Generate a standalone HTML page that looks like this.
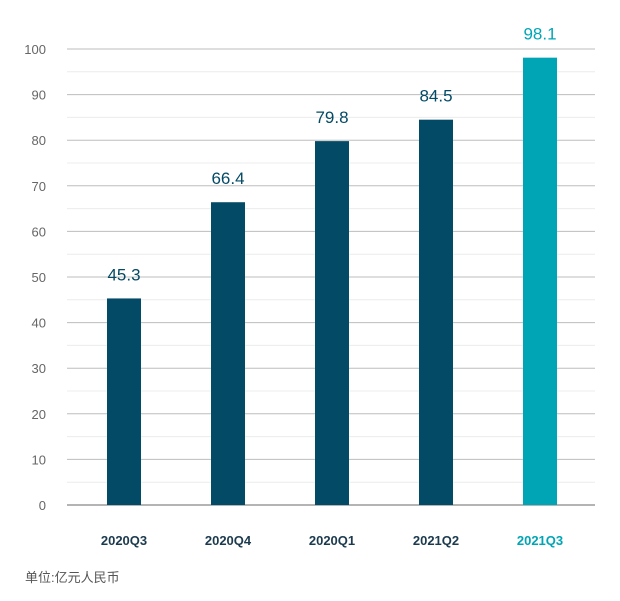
<!DOCTYPE html>
<html><head><meta charset="utf-8"><style>
body{margin:0;background:#fff;}
svg{display:block;font-family:"Liberation Sans","Noto Sans CJK SC",sans-serif;}
</style></head><body>
<svg id="chart" width="620" height="601">
<g id="grid"></g>
<g id="yaxis"></g>
<g id="bars"></g>
<g id="xaxis"></g>
<text x="25" y="582" font-size="13" fill="#555">单位:亿元人民币</text>
</svg>
<script>
const categories=["2020Q3","2020Q4","2020Q1","2021Q2","2021Q3"];
const values=[45.3,66.4,79.8,84.5,98.1];
const valueLabels=["45.3","66.4","79.8","84.5","98.1"];
const yTicks=[0,10,20,30,40,50,60,70,80,90,100];
const NS="http://www.w3.org/2000/svg";
const y0=505,yScale=4.56,left=67,right=595,band=104,start=72,bw=34;
function y(v){return y0-v*yScale;}
function x(i){return start+band*i+band/2;}
function mk(tag,attrs,parent,text){const e=document.createElementNS(NS,tag);for(const k in attrs)e.setAttribute(k,attrs[k]);if(text!==undefined)e.textContent=text;parent.appendChild(e);return e;}
const grid=document.getElementById('grid'),ya=document.getElementById('yaxis'),bars=document.getElementById('bars'),xa=document.getElementById('xaxis');
for(let v=5;v<100;v+=10){const l=mk('line',{x1:left,x2:right,y1:y(v),y2:y(v),stroke:'#ececec','stroke-width':1},grid);

}
yTicks.forEach(t=>{const l=mk('line',{x1:left,x2:right,y1:y(t),y2:y(t),stroke:t===0?'#888':'#bdbdbd','stroke-width':t===0?1.3:1},grid);


const tx=mk('text',{x:46,y:y(t)+5,'text-anchor':'end','font-size':13,fill:'#666'},ya,String(t));

});
categories.forEach((c,i)=>{const last=i===categories.length-1;const col=last?'#00a5b5':'#034a66';
const r=mk('rect',{x:x(i)-bw/2,y:y(values[i]),width:bw,height:y0-y(values[i]),fill:col},bars);


const vl=mk('text',{x:x(i),y:y(values[i])-18,'text-anchor':'middle','font-size':17,fill:col},bars,valueLabels[i]);


const xl=mk('text',{x:x(i),y:545,'text-anchor':'middle','font-size':13,'font-weight':'bold',fill:last?'#00a5b5':'#1c3a4e'},xa,c);

});
</script>
</body></html>
